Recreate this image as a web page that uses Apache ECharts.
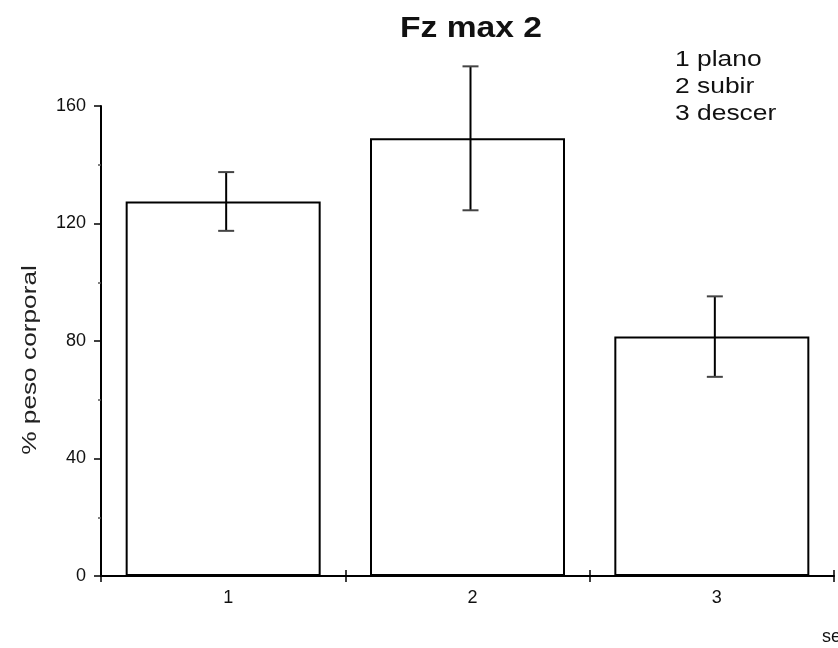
<!DOCTYPE html>
<html>
<head>
<meta charset="utf-8">
<script src="https://cdn.jsdelivr.net/npm/echarts@6/dist/echarts.min.js"></script>
<style>
  html, body { margin: 0; padding: 0; background: #fff; }
  #chart { width: 838px; height: 648px; }
</style>
</head>
<body>
<div id="chart"></div>
<script>
// Fz max 2 — mean peak vertical force (% body weight) per condition, with error bars
const categories = ['1', '2', '3'];
const means = [127.5, 149, 81.5];
const errors = [10, 24.5, 13.7];
const yTicks = [0, 40, 80, 120, 160];
const legendLines = ['1 plano', '2 subir', '3 descer'];
const titleText = 'Fz max 2';
const yAxisTitle = '% peso corporal';
const xAxisTitle = 'se';

const FONT = '"Liberation Sans", Arial, sans-serif';
const chart = echarts.init(document.getElementById('chart'));

const errorData = means.map((m, i) => [i, m - errors[i], m + errors[i]]);

chart.setOption({
  animation: false,
  backgroundColor: '#fff',
  graphic: [
    {
      type: 'text',
      x: 471,
      y: 29,
      scaleX: 1.12,
      style: {
        text: titleText,
        fontFamily: FONT,
        fontSize: 30,
        fontWeight: 'bold',
        fill: '#111',
        align: 'center',
        verticalAlign: 'middle'
      }
    },
    {
      type: 'text',
      x: 675,
      y: 46,
      scaleX: 1.2,
      style: {
        text: legendLines.join('\n'),
        fontFamily: FONT,
        fontSize: 22,
        lineHeight: 27,
        fill: '#111'
      }
    },
    {
      type: 'text',
      x: 30,
      y: 360,
      rotation: Math.PI / 2,
      scaleX: 1.25,
      style: {
        text: yAxisTitle,
        fontFamily: FONT,
        fontSize: 21,
        fill: '#222',
        align: 'center',
        verticalAlign: 'middle'
      }
    },
    {
      type: 'text',
      x: 822,
      y: 628,
      style: { text: xAxisTitle, fontFamily: FONT, fontSize: 18, fill: '#111' }
    }
  ],
  grid: { left: 101, right: 4, top: 106, bottom: 72, containLabel: false },
  xAxis: [
    {
      type: 'category',
      data: categories,
      boundaryGap: true,
      axisLine: { show: true, lineStyle: { color: '#000', width: 2 } },
      axisTick: { show: true, length: 6, lineStyle: { color: '#000', width: 1.5 } },
      axisLabel: { fontFamily: FONT, fontSize: 18, color: '#111', margin: 13, padding: [0, 0, 0, 10] },
      splitLine: { show: false }
    },
    {
      type: 'category',
      data: categories,
      position: 'bottom',
      boundaryGap: true,
      axisLine: { show: false },
      axisTick: { show: true, inside: true, length: 6, lineStyle: { color: '#000', width: 1.5 } },
      axisLabel: { show: false },
      splitLine: { show: false }
    }
  ],
  yAxis: {
    type: 'value',
    min: 0,
    max: 160,
    interval: 40,
    axisLine: { show: true, lineStyle: { color: '#000', width: 2 } },
    axisTick: { show: true, length: 7, lineStyle: { color: '#000', width: 1.5 } },
    minorTick: { show: true, splitNumber: 2, length: 3, lineStyle: { color: '#555', width: 1.5 } },
    axisLabel: {
      fontFamily: FONT, fontSize: 18, color: '#111', margin: 15,
      formatter: v => (yTicks.includes(v) ? String(v) : '')
    },
    splitLine: { show: false }
  },
  series: [
    {
      type: 'bar',
      data: means,
      barWidth: 195,
      itemStyle: { color: '#fff', borderColor: '#000', borderWidth: 2 },
      z: 2
    },
    {
      type: 'custom',
      data: errorData,
      z: 3,
      renderItem: function (params, api) {
        const x = api.value(0);
        const lo = api.coord([x, api.value(1)]);
        const hi = api.coord([x, api.value(2)]);
        const cx = lo[0] + 3;
        const half = 8;
        return {
          type: 'group',
          children: [
            { type: 'line', shape: { x1: cx, y1: lo[1], x2: cx, y2: hi[1] },
              style: { stroke: '#000', lineWidth: 2 } },
            { type: 'line', shape: { x1: cx - half, y1: hi[1], x2: cx + half, y2: hi[1] },
              style: { stroke: '#444', lineWidth: 2 } },
            { type: 'line', shape: { x1: cx - half, y1: lo[1], x2: cx + half, y2: lo[1] },
              style: { stroke: '#444', lineWidth: 2 } }
          ]
        };
      }
    }
  ]
});
</script>
</body>
</html>
